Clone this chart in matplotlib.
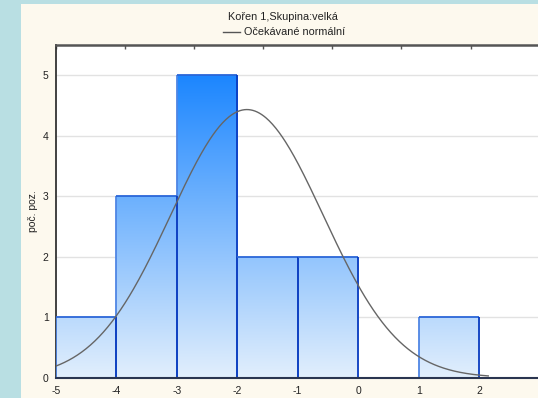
import numpy as np
import matplotlib
matplotlib.use("Agg")
import matplotlib.pyplot as plt
from matplotlib.patches import Rectangle
from matplotlib.lines import Line2D

plt.rcParams['font.family'] = ['Liberation Sans', 'DejaVu Sans']

# Histogram data
bin_edges = [-5, -4, -3, -2, -1, 0, 1, 2]
counts = [1, 3, 5, 2, 2, 0, 1]
x_ticks = [-5, -4, -3, -2, -1, 0, 1, 2]
y_ticks = [0, 1, 2, 3, 4, 5]

# Expected normal curve parameters
norm_mean = -1.84
norm_sd = 1.26

title = "Kořen 1,Skupina:velká"
legend_label = "Očekávané normální"
ylabel = "poč. poz."

W, H = 538, 398
fig = plt.figure(figsize=(W / 100, H / 100), dpi=100)
fig.patch.set_facecolor('#b9dfe3')
# cream panel
fig.patches.append(Rectangle((20.5 / W, 0), 1 - 20.5 / W, 1 - 4 / H,
                             transform=fig.transFigure, facecolor='#fdf9ee',
                             edgecolor='none', zorder=-10))

px_per_unit = 60.5
ax_x0 = 55.7
ax_w = 8 * px_per_unit
ax_bot, ax_top = (H - 377.7) / H, (H - 45.0) / H
ax = fig.add_axes([ax_x0 / W, ax_bot, ax_w / W, ax_top - ax_bot])
ax.set_zorder(1)
ax.set_facecolor('white')

# horizontal grid
for yv in y_ticks[1:]:
    ax.axhline(yv, color='#e2e2e2', lw=1.0, zorder=1)

# gradient-filled bars (colour depends on height)
c_low = np.array([226, 239, 252]) / 255
c_high = np.array([28, 134, 255]) / 255
for left, right, h in zip(bin_edges[:-1], bin_edges[1:], counts):
    if h <= 0:
        continue
    yy = np.linspace(0, h, 200)[:, None]
    t = yy / 5.0
    img = (c_low[None, None, :] * (1 - t[..., None]) + c_high[None, None, :] * t[..., None])
    img = np.repeat(img, 2, axis=1)
    ax.imshow(img, extent=[left, right, 0, h], origin='lower', aspect='auto',
              interpolation='bilinear', zorder=2)
for left, right, h in zip(bin_edges[:-1], bin_edges[1:], counts):
    if h <= 0:
        continue
    ax.plot([left, left], [0, h], color='#4f86e4', lw=1.3, zorder=3,
            solid_capstyle='butt')
for left, right, h in zip(bin_edges[:-1], bin_edges[1:], counts):
    if h <= 0:
        continue
    ax.plot([left, right], [h, h], color='#2a66d8', lw=1.3, zorder=3,
            solid_capstyle='butt')
    ax.plot([right, right], [0, h], color='#0a3cc0', lw=1.3, zorder=3,
            solid_capstyle='butt')

# expected normal curve, scaled to counts per unit bin
n_total = sum(counts)
bin_width = bin_edges[1] - bin_edges[0]
xs = np.linspace(bin_edges[0], 2.15, 400)
ys = (n_total * bin_width / (norm_sd * np.sqrt(2 * np.pi))
      * np.exp(-0.5 * ((xs - norm_mean) / norm_sd) ** 2))
ax.plot(xs, ys, color='#666666', lw=1.0, zorder=4)

ax.set_xlim(-5, 3)
ax.set_ylim(0, 5.5)
ax.set_xticks(x_ticks)
ax.set_xticklabels([str(v) for v in x_ticks])
ax.set_yticks(y_ticks)
ax.set_yticklabels([str(v) for v in y_ticks])
ax.tick_params(axis='x', length=0, pad=6, labelsize=7.5, colors='#222222')
ax.tick_params(axis='y', length=0, pad=5, labelsize=7.5, colors='#222222')

ax.spines['right'].set_visible(False)
ax.spines['left'].set_color('#333333')
ax.spines['left'].set_linewidth(1.3)
ax.spines['bottom'].set_color('#2a3550')
ax.spines['bottom'].set_linewidth(1.5)
ax.spines['bottom'].set_zorder(5)
ax.spines['top'].set_color('#555555')
ax.spines['top'].set_linewidth(1.8)

# top axis tick marks
top = ax.secondary_xaxis('top')
top.set_xticks([-5 + k * 8 / 7 for k in range(8)])
top.tick_params(axis='x', direction='in', length=3, width=1, colors='#555555',
                labeltop=False)
top.spines['top'].set_visible(False)

fig.text(33 / W, 1 - 211 / H, ylabel, rotation=90, ha='center', va='center',
         fontsize=7.5, color='#222222')

# title and legend entry
fig.text(283 / W, 1 - 16.5 / H, title, ha='center', va='center', fontsize=7.8,
         color='#222222')
fig.lines.append(Line2D([223 / W, 240 / W], [1 - 31.7 / H, 1 - 31.7 / H],
                        transform=fig.transFigure, color='#555555', lw=1.0))
fig.text(244 / W, 1 - 31.7 / H, legend_label, ha='left', va='center',
         fontsize=7.8, color='#222222')

fig.savefig('out.png', dpi=100, facecolor=fig.get_facecolor())
